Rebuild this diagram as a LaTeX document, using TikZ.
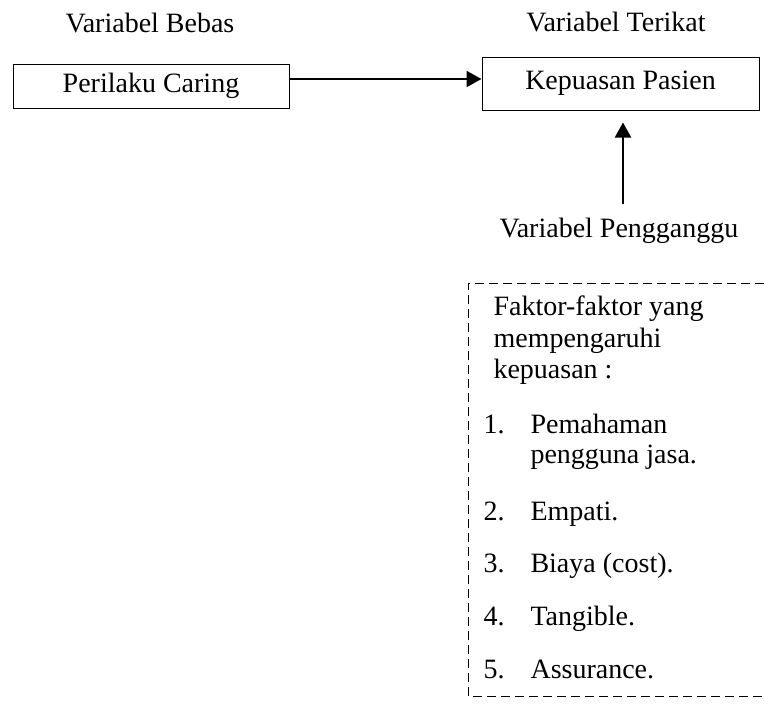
\documentclass[tikz,border=0pt]{standalone}
\usepackage{fontspec}
\setmainfont{Liberation Serif}
\usetikzlibrary{arrows.meta}
\tikzset{
  varbox/.style={draw, line width=1pt, rectangle, inner sep=0pt},
  arr/.style={line width=2.2pt, -{Triangle[length=15pt,width=16pt]}},
  dashbox/.style={line width=1pt, dash pattern=on 9pt off 5pt}
}
\begin{document}
\begin{tikzpicture}[x=1pt, y=-1pt, font=\fontsize{28}{34}\selectfont]
      \useasboundingbox (0,0) rectangle (764,705);
      \draw
        (150,32) node[anchor=base] (bebas){Variabel Bebas}
        (616,31) node[anchor=base] (terikat){Variabel Terikat}
        (619,237) node[anchor=base] (pengganggu){Variabel Pengganggu};
      \node[varbox, minimum width=276pt, minimum height=44pt] (caring) at (151,86) {Perilaku Caring};
      \node[varbox, minimum width=277pt, minimum height=53pt] (kepuasan) at (620.5,83.5) {Kepuasan Pasien};
      \coordinate (src) at (623,204);
      \begin{scope}
        \draw[arr] ([yshift=7pt]caring.east) -- ([yshift=7pt]caring.east -| kepuasan.west);
        \draw[arr] (src) -- ([yshift=-12pt]src |- kepuasan.south);
      \end{scope}
      % faktor box
      \draw[dashbox] (764,283) -- (468,283) -- (468,696) -- (764,696);
      \draw
        (490,315) node[anchor=base west] (f1){Faktor-faktor yang}
        (490,347) node[anchor=base west] (f2){mempengaruhi}
        (490,378) node[anchor=base west] (f3){kepuasan :}
        (480,433) node[anchor=base west] (n1){1.}
        (527,433) node[anchor=base west] (i1){Pemahaman}
        (527,463) node[anchor=base west] (i1b){pengguna jasa.}
        (480,520) node[anchor=base west] (n2){2.}
        (527,520) node[anchor=base west] (i2){Empati.}
        (480,572) node[anchor=base west] (n3){3.}
        (527,572) node[anchor=base west] (i3){Biaya (cost).}
        (480,625) node[anchor=base west] (n4){4.}
        (527,625) node[anchor=base west] (i4){Tangible.}
        (480,678) node[anchor=base west] (n5){5.}
        (527,678) node[anchor=base west] (i5){Assurance.};
    \end{tikzpicture}
\end{document}
